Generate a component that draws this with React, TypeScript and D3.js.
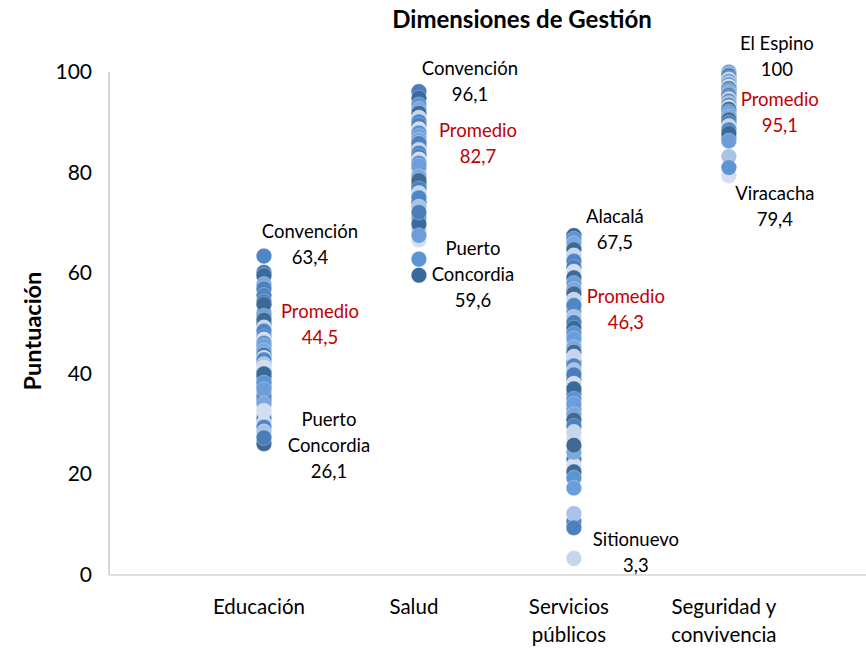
import React from "react";
import * as d3 from "d3";

const categories = ["Educación", "Salud", "Servicios públicos", "Seguridad y convivencia"];
const categoryLines = [["Educación"], ["Salud"], ["Servicios", "públicos"], ["Seguridad y", "convivencia"]];

const educacion = [63.4, 45.0, 60.2, 33.4, 59.5, 52.1, 38.8, 57.8, 49.8, 56.9, 42.3, 55.6, 36.2, 54.3, 47.9, 53.8, 40.6, 51.5, 44.1, 50.7, 35.6, 49.2, 48.5, 31.8, 47.3, 46.8, 39.5, 46.1, 45.5, 44.6, 43.7, 37.5, 43.2, 42.8, 41.9, 34.8, 41.2, 40.0, 38.2, 36.9, 34.1, 26.1, 31.0, 30.2, 29.4, 28.5, 27.3, 32.6];
const salud = [96.1, 79.9, 94.8, 93.5, 71.0, 92.6, 91.8, 85.1, 90.9, 90.1, 68.6, 89.4, 88.6, 77.6, 87.9, 87.2, 86.5, 74.1, 85.8, 84.5, 83.9, 80.6, 83.2, 82.6, 69.8, 81.9, 81.3, 79.2, 78.4, 76.8, 75.9, 75.0, 73.2, 72.1, 66.6, 59.6, 62.8, 67.5];
const servicios = [67.5, 66.8, 52.5, 65.9, 64.7, 38.9, 63.5, 62.4, 46.1, 61.2, 60.3, 59.1, 33.0, 58.0, 56.8, 55.9, 42.5, 54.7, 53.6, 51.3, 50.2, 27.1, 49.1, 48.0, 47.0, 45.2, 44.3, 36.0, 43.4, 41.6, 40.7, 39.8, 38.0, 37.0, 35.0, 34.0, 31.9, 30.8, 29.6, 28.4, 10.6, 12.2, 23.0, 21.8, 20.5, 19.3, 17.3, 24.4, 25.8, 9.4, 3.3];
const seguridad = [100, 99.6, 99.2, 98.8, 98.5, 98.1, 97.8, 97.4, 97.1, 96.7, 96.4, 96.0, 95.7, 95.3, 95.0, 94.6, 94.2, 93.8, 93.4, 93.0, 92.6, 92.1, 91.6, 91.1, 90.5, 89.9, 89.2, 88.5, 83.2, 87.0, 79.4, 87.8, 81.0, 86.3];
const seriesValues = [educacion, salud, servicios, seguridad];

const maxNames = ["Convención", "Convención", "Alacalá", "El Espino"];
const maxValues = ["63,4", "96,1", "67,5", "100"];
const avgValues = [44.5, 82.7, 46.3, 95.1];
const minNames = [["Puerto", "Concordia"], ["Puerto", "Concordia"], ["Sitionuevo"], ["Viracacha"]];
const minValues = ["26,1", "59,6", "3,3", "79,4"];

const yTicks = [0, 20, 40, 60, 80, 100];

const palette = ["#4F86C6", "#3E6A94", "#5B95D3", "#4A7EBB", "#C6D6EC", "#7DA7DC", "#3A6A9A", "#A9C3E6", "#4C80BE", "#6C9FD9", "#D2DEEF"];

// label layout (pixel offsets from category centre / value position)
const maxDx = [46, 51, 41, 48];
const maxDy = [-24, -23, -18, -28];
const avgDx = [56, 59, 52, 51];
const avgDy = [-39, -28, -45, 3];
const minDx = [65, 54, 62, 46];
const minDy = [-24, -26, -18, 18];
const LINE = 26;

const W = 866;
const H = 649;
const FONT = "Lato, 'Open Sans', sans-serif";

export default function App() {
  const x = d3.scaleLinear().domain([0, 4.885]).range([109, 866]);
  const y = d3.scaleLinear().domain([0, 100]).range([575, 72]);
  const fmt = (v: number) => v.toFixed(1).replace(".", ",");

  return (
    <div style={{ position: "fixed", left: 0, top: 0 }}>
      <svg width={W} height={H} style={{ display: "block", background: "#fff" }}>
        <text x={522} y={28} textAnchor="middle" fontFamily={FONT} fontWeight="bold" fontSize={24} fill="#000">
          Dimensiones de Gestión
        </text>
        <text
          transform={`translate(41,${y(48.5)}) rotate(-90)`}
          textAnchor="middle"
          fontFamily={FONT}
          fontWeight="bold"
          fontSize={23.5}
          fill="#000"
        >
          Puntuación
        </text>
        {yTicks.map((t) => (
          <text key={t} x={92} y={y(t) + 7} textAnchor="end" fontFamily={FONT} fontSize={21} fill="#000">
            {t}
          </text>
        ))}
        <line x1={x(0)} x2={x(0)} y1={y(100)} y2={y(0)} stroke="#BFBFBF" strokeWidth={1.2} />
        <line x1={x(0)} x2={866} y1={y(0)} y2={y(0)} stroke="#BFBFBF" strokeWidth={1.2} />
        {categoryLines.map((lines, i) => (
          <text key={categories[i]} textAnchor="middle" fontFamily={FONT} fontSize={20.5} fill="#000">
            {lines.map((l, j) => (
              <tspan key={j} x={x(i + 1) - 5} y={614 + j * 28}>
                {l}
              </tspan>
            ))}
          </text>
        ))}
        {seriesValues.map((vals, s) =>
          vals.map((v, i) => (
            <circle
              key={`${s}-${i}`}
              cx={x(s + 1)}
              cy={y(v)}
              r={7.8}
              fill={palette[(i * 7 + s * 3) % palette.length]}
              stroke="rgba(255,255,255,0.35)"
              strokeWidth={0.8}
            />
          ))
        )}
        {seriesValues.map((vals, s) => {
          const cx = x(s + 1);
          const maxV = d3.max(vals) as number;
          const minV = d3.min(vals) as number;
          const maxY = y(maxV) + maxDy[s];
          const avgY = y(avgValues[s]) + avgDy[s];
          const minY = y(minV) + minDy[s];
          const minLines = [...minNames[s], minValues[s]];
          return (
            <g key={`lab-${s}`} fontFamily={FONT} fontSize={18.5} textAnchor="middle">
              <text fill="#000">
                <tspan x={cx + maxDx[s]} y={maxY + 6}>{maxNames[s]}</tspan>
                <tspan x={cx + maxDx[s]} y={maxY + 6 + LINE}>{maxValues[s]}</tspan>
              </text>
              <text fill="#C00000">
                <tspan x={cx + avgDx[s]} y={avgY + 6}>Promedio</tspan>
                <tspan x={cx + avgDx[s]} y={avgY + 6 + LINE}>{fmt(avgValues[s])}</tspan>
              </text>
              <text fill="#000">
                {minLines.map((n, j) => (
                  <tspan key={j} x={cx + minDx[s]} y={minY + 6 + j * LINE}>
                    {n}
                  </tspan>
                ))}
              </text>
            </g>
          );
        })}
      </svg>
    </div>
  );
}
